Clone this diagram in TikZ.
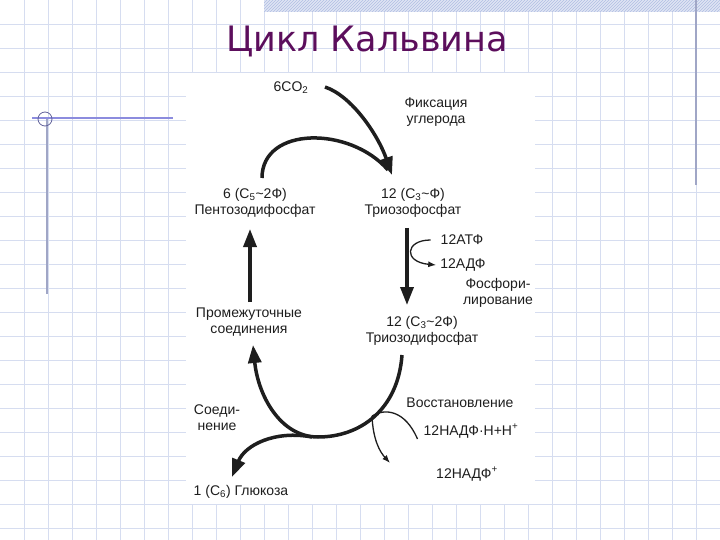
\documentclass[tikz,border=0pt]{standalone}
\usepackage{fontspec}
\setmainfont{Liberation Sans}
\newfontfamily\titlefont{DejaVu Sans}
\usetikzlibrary{arrows.meta,patterns}

\definecolor{gridblue}{RGB}{214,221,240}
\definecolor{titlepurple}{RGB}{92,14,92}
\definecolor{ink}{RGB}{30,30,30}
\definecolor{deco}{RGB}{140,140,222}
\definecolor{decogray}{RGB}{160,166,198}
\definecolor{hatch}{RGB}{176,190,226}

\begin{document}
\begin{tikzpicture}[x=1pt,y=-1pt,
    lbl/.style={font=\fontsize{14}{16}\selectfont, align=center, inner sep=0pt, text=ink},
    bigarrow/.style={draw=ink, line width=3.5pt, -{Triangle[length=18pt,width=13pt]}},
    bigline/.style={draw=ink, line width=3.5pt},
    thinarrow/.style={draw=ink, line width=1.3pt, -{Latex[length=8pt,width=6pt]}},
    gridline/.style={draw=gridblue, line width=0.7pt}]

    \useasboundingbox (0,0) rectangle (720,540);

    % Background
    \fill[white] (0,0) rectangle (720,540);
    \foreach \i in {1,...,29} \draw[gridline] (24*\i,0) -- (24*\i,540);
    \foreach \j in {1,...,22} \draw[gridline] (0,24*\j) -- (720,24*\j);
    \fill[hatch!40] (264,0) rectangle (720,12);
    \fill[pattern=north east lines, pattern color=hatch] (264,0) rectangle (720,12);
    \draw[decogray, line width=1.5pt] (696,0) -- (696,185);
    \draw[decogray, line width=1.5pt] (47,118) -- (47,294);
    \draw[deco, line width=1.2pt] (32,118) -- (173,118);
    \draw[deco!70!black, line width=0.8pt] (45,119) circle (7);
    \fill[white] (186,73) rectangle (535,504);

    % Title
    \node[font=\titlefont\fontsize{35}{40}\selectfont, text=titlepurple, anchor=base, inner sep=0pt] (title) at (367,52) {Цикл Кальвина};

    % Nodes
    \node[lbl] (co2) at (291,88) {6CO\textsubscript{2}};
    \node[lbl] (fix) at (436,112) {Фиксация\\углерода};
    \node[lbl] (pent) at (255,203) {6 (C\textsubscript{5}\textasciitilde 2Ф)\\Пентозодифосфат};
    \node[lbl] (trio) at (413,203) {12 (C\textsubscript{3}\textasciitilde Ф)\\Триозофосфат};
    \node[lbl] (atp) at (462,240) {12АТФ};
    \node[lbl] (adp) at (463,265) {12АДФ};
    \node[lbl] (phos) at (498,293) {Фосфори-\\лирование};
    \node[lbl] (inter) at (249,322) {Промежуточные\\соединения};
    \node[lbl] (triodi) at (422,331) {12 (C\textsubscript{3}\textasciitilde 2Ф)\\Триозодифосфат};
    \node[lbl] (restore) at (460,403) {Восстановление};
    \node[lbl] (nadph) at (471,431) {12НАДФ·Н+Н\textsuperscript{+}};
    \node[lbl] (nadp) at (467,474) {12НАДФ\textsuperscript{+}};
    \node[lbl] (join) at (217,418) {Соеди-\\нение};
    \node[lbl] (gluc) at (241,492) {1 (C\textsubscript{6}) Глюкоза};

    \coordinate (co2out) at (325,87);
    \coordinate (fixtip) at (392,175);
    \coordinate (pentout) at (262,178);
    \coordinate (fixend) at (388,170);
    \coordinate (downtop) at (407,228);
    \coordinate (downtip) at (407,305);
    \coordinate (uptop) at (250,229);
    \coordinate (upbottom) at (250,302);
    \coordinate (ustart) at (402,355);
    \coordinate (ubottom) at (318,437);
    \coordinate (utip) at (253,345);
    \coordinate (glucout) at (312,437);
    \coordinate (gluctip) at (232,477);
    \coordinate (redmeet) at (372,416);
    \coordinate (redtip) at (390,463);

    % Edges
    \draw[bigline] (pentout) .. controls (262,126) and (350,126) .. (fixend);
    \draw[bigarrow] (co2out) .. controls (352,96) and (378,135) .. (fixtip);
    \draw[bigarrow] (downtop) -- (downtip);
    \draw[thinarrow] ([xshift=-10pt]atp.west) .. controls (405,240) and (403,262) .. ([xshift=-4pt]adp.west);
    \draw[bigarrow] (upbottom) -- (uptop);
    \draw[bigarrow] (ustart) .. controls (398,410) and (360,437) .. (ubottom)
                             .. controls (280,437) and (258,395) .. (utip);
    \draw[bigarrow] (glucout) .. controls (275,430) and (245,445) .. (gluctip);
    \draw[draw=ink, line width=1.3pt] ([shift={(-6pt,-8pt)}]nadph.west) .. controls (405,410) and (385,408) .. (redmeet);
    \draw[thinarrow] (redmeet) .. controls (373,440) and (380,452) .. (redtip);
\end{tikzpicture}
\end{document}
